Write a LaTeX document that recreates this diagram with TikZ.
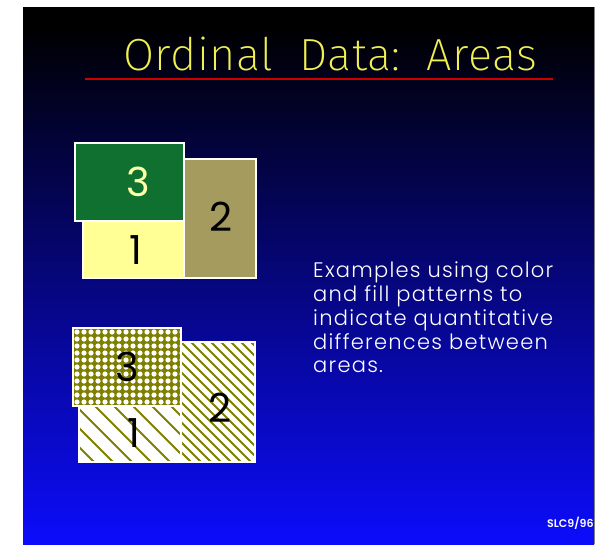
\documentclass[tikz,border=0pt]{standalone}
\usepackage{fontspec}
\newfontfamily\titlefont{Fira Sans ExtraLight}[LetterSpace=1]
\newfontfamily\bodyfont{Poppins}
\newfontfamily\descfont{Poppins Light}[LetterSpace=6]
\newfontfamily\smallfont{Poppins SemiBold}
\definecolor{titleyellow}{RGB}{240,240,80}
\definecolor{rulered}{RGB}{205,0,0}
\definecolor{bgblue}{RGB}{12,12,252}
\definecolor{darkgreen}{RGB}{16,112,48}
\definecolor{paleyellow}{RGB}{255,255,150}
\definecolor{khaki}{RGB}{165,155,95}
\definecolor{olive}{RGB}{128,128,0}
\definecolor{labelyellow}{RGB}{255,255,170}
\tikzset{
  area/.style={draw=white, line width=1.2pt},
  hatch/.style={draw=olive, line width=2pt},
  numlabel/.style={font=\bodyfont\fontsize{40}{40}\selectfont, inner sep=0pt},
}
\begin{document}
\begin{tikzpicture}[x=1pt,y=-1pt]
\useasboundingbox (0,0) rectangle (599,544);
% background
\fill[black] (23,7) rectangle (594,544);
\shade[top color=black, bottom color=bgblue] (23,25) rectangle (594,544);
\draw[gray, line width=1pt] (594.5,7) -- (594.5,544);
% title
\node[anchor=base west, inner sep=0pt, text=titleyellow,
      font=\titlefont\fontsize{45}{45}\selectfont] (title) at (123,70) {Ordinal\ \ Data:\ \ Areas};
\coordinate (ruleL) at (85,79);
\coordinate (ruleR) at (553,79);
\draw[rulered, line width=2pt] (ruleL) -- (ruleR);
% top group: colours
\fill[khaki] (184,159) rectangle (256,278);
\draw[area] (184,159) rectangle (256,278);
\fill[paleyellow] (83,221) rectangle (184,278);
\draw[area] (83,221) rectangle (184,278);
\fill[darkgreen] (75,143) rectangle (184,221);
\draw[area] (75,143) rectangle (184,221);
\node[numlabel, text=labelyellow] (t3) at (138,182) {3};
\node[numlabel, text=black] (t1) at (136,250) {1};
\node[numlabel, text=black] (t2) at (221,217) {2};
% bottom group: patterns
\fill[white] (181,342) rectangle (255,462);
\begin{scope}
  \clip (181,342) rectangle (255,462);
  \foreach \i in {-130,-120,...,80} { \draw[hatch] (181+\i,342) -- ++(130,130); }
\end{scope}
\draw[area] (181,342) rectangle (255,462);
\fill[white] (79,406) rectangle (181,462);
\begin{scope}
  \clip (79,406) rectangle (181,462);
  \foreach \i in {-60,-41,...,110} { \draw[hatch] (79+\i,406) -- ++(70,70); }
\end{scope}
\draw[area] (79,406) rectangle (181,462);
\fill[olive] (73,328) rectangle (181,406);
\begin{scope}
  \clip (73,328) rectangle (181,406);
  \foreach \x in {77,84,...,182} {
    \foreach \y in {332,339,...,406} { \fill[white] (\x,\y) circle (2.6); }
  }
\end{scope}
\draw[area] (73,328) rectangle (181,406);
\node[numlabel, text=black] (b3) at (127,367) {3};
\node[numlabel, text=black] (b1) at (134,433) {1};
\node[numlabel, text=black] (b2) at (220,408) {2};
% description
\node[anchor=north west, inner sep=0pt, align=left, text=white,
      font=\descfont\fontsize{21}{23.75}\selectfont] (desc) at (313,262)
  {Examples using color\\and fill patterns to\\indicate quantitative\\differences between\\areas.};
% footer
\begin{scope}
  \clip (23,7) rectangle (594,544);
  \node[anchor=base west, inner sep=0pt, text=white,
        font=\smallfont\fontsize{11}{11}\selectfont] (slc) at (547,527) {SLC9/96};
\end{scope}
\end{tikzpicture}
\end{document}
